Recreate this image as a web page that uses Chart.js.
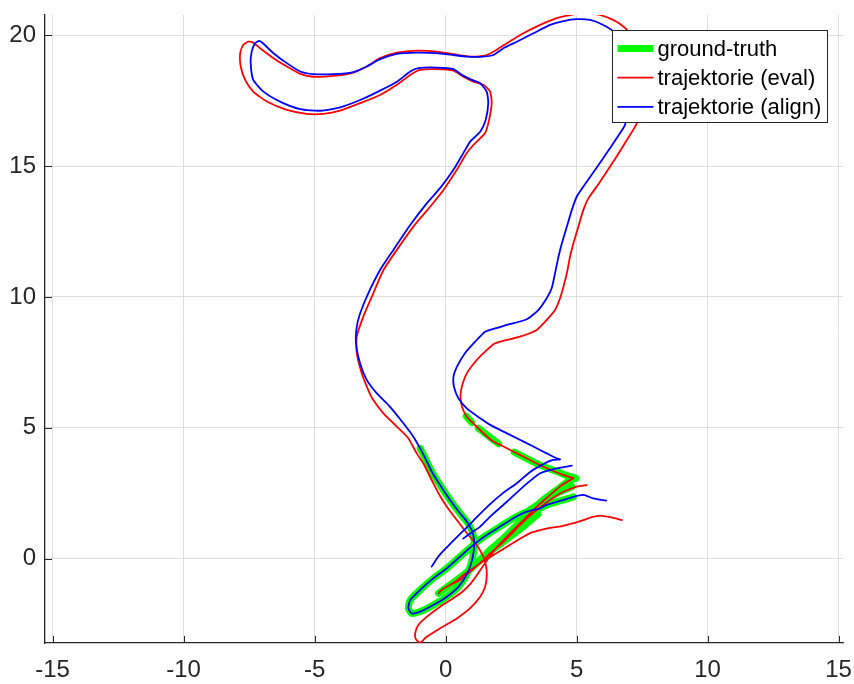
<!DOCTYPE html>
<html>
<head>
<meta charset="utf-8">
<title>Trajektorie</title>
<script src="https://cdn.jsdelivr.net/npm/chart.js@4.4.1/dist/chart.umd.min.js"></script>
<style>
  html, body { margin: 0; padding: 0; background: #ffffff; }
  #wrap { width: 854px; height: 684px; }
</style>
</head>
<body>
<div id="wrap"><canvas id="plot" width="854" height="684"></canvas></div>
<script>
// Axis ticks
const xTicks = [-15, -10, -5, 0, 5, 10, 15];
const yTicks = [0, 5, 10, 15, 20];

// Legend entries
const seriesNames = ['ground-truth', 'trajektorie (eval)', 'trajektorie (align)'];

// Ground truth pieces [x, y] in metres
const truthLeft = [[-0.97,4.21],[-0.78,3.84],[-0.52,3.31],[-0.21,2.81],[0.17,2.24],[0.55,1.73],[0.82,1.40],[1.01,1.05],[1.09,0.67],[1.07,0.25],[0.97,-0.21],[0.78,-0.67],[0.48,-1.09],[0.05,-1.46],[-0.47,-1.78],[-0.97,-2.03],[-1.29,-2.10],[-1.42,-1.90],[-1.35,-1.59],[-0.97,-1.20],[-0.47,-0.76],[0.05,-0.37],[0.55,0.07],[1.06,0.52],[1.57,0.90],[2.08,1.22],[2.59,1.54],[3.10,1.79],[3.61,1.92],[3.86,2.05],[4.50,2.24],[4.88,2.36]];
const truthReturn = [[-0.27,-1.33],[0.17,-1.01],[0.68,-0.63],[1.32,-0.06],[1.70,0.33],[2.21,0.77],[2.72,1.28],[3.23,1.79],[3.73,2.24],[4.24,2.62],[4.75,3.00],[4.98,3.07],[4.63,3.17],[4.24,3.33],[3.61,3.57],[2.62,4.07]];
const truthDashA = [[1.25,4.98],[2.02,4.39]];
const truthDashB = [[0.79,5.44],[1.00,5.20]];
const truthStrandA = [[4.83,2.75],[4.24,2.49],[3.61,2.11],[3.20,1.85]];
const truthStrandB = [[3.53,1.70],[2.97,1.22],[2.46,0.83],[1.95,0.45],[1.43,0.06],[0.94,-0.33]];

// Estimated trajectory (eval)
const evalClimb = [[4.88,3.07],[4.50,3.19],[3.86,3.45],[3.35,3.70],[2.72,4.02],[2.21,4.28],[1.82,4.47],[1.44,4.79],[1.06,5.17],[0.81,5.42],[0.63,5.79],[0.57,6.19],[0.62,6.57],[0.81,7.08],[1.19,7.59],[1.57,7.97],[1.89,8.23],[2.34,8.36],[2.84,8.48],[3.48,8.74],[3.86,9.12],[4.18,9.50],[4.37,9.95],[4.50,10.39],[4.63,10.91],[4.75,11.54],[4.88,12.05],[5.07,12.69],[5.26,13.33],[5.45,13.77],[5.77,14.22],[6.15,14.79],[6.53,15.37],[6.92,16.00],[7.30,16.64],[7.42,17.34],[7.50,18.11],[7.38,18.99],[7.16,19.68],[6.92,20.21],[6.53,20.52],[5.90,20.78],[5.26,20.85],[4.75,20.78]];
const evalTop = [[4.75,20.78],[4.24,20.66],[3.61,20.40],[2.97,20.08],[2.34,19.70],[1.95,19.45],[1.57,19.25],[1.06,19.19],[0.55,19.24],[-0.34,19.38],[-1.10,19.42],[-1.86,19.34],[-2.50,19.13],[-3.01,18.81],[-3.52,18.58],[-4.28,18.45],[-5.05,18.42],[-5.55,18.53],[-6.06,18.81],[-6.57,19.13],[-7.08,19.51],[-7.34,19.72],[-7.53,19.76],[-7.72,19.64],[-7.84,19.32],[-7.82,18.81],[-7.65,18.30],[-7.34,17.85],[-6.82,17.47],[-6.06,17.15],[-5.30,17.00],[-4.66,17.00],[-4.03,17.12],[-3.26,17.41],[-2.50,17.72],[-1.86,18.11],[-1.35,18.49],[-0.97,18.68],[-0.34,18.71],[0.30,18.65],[0.68,18.42],[1.06,18.23],[1.44,18.11],[1.70,17.85],[1.76,17.41],[1.66,16.77]];
const evalDescent = [[1.66,16.77],[1.51,16.27],[1.06,15.81],[0.81,15.50],[0.43,14.86],[-0.08,14.09],[-0.59,13.45],[-1.23,12.69],[-1.86,11.80],[-2.37,11.03],[-2.76,10.14],[-3.14,9.25],[-3.39,8.48],[-3.39,7.85],[-3.20,7.08],[-2.95,6.44],[-2.76,6.06],[-2.37,5.55],[-1.86,5.04],[-1.43,4.61],[-1.10,4.02],[-0.85,3.64],[-0.47,2.88],[-0.21,2.39],[0.05,1.98],[0.43,1.47],[0.87,0.90],[1.19,0.52],[1.44,0.07],[1.55,-0.31],[1.57,-0.70],[1.51,-1.08],[1.32,-1.46],[0.94,-1.90],[0.43,-2.29],[-0.21,-2.67],[-0.72,-2.99],[-0.97,-3.22],[-1.13,-3.09],[-1.16,-2.85],[-1.04,-2.54],[-0.72,-2.23],[-0.21,-1.84],[0.25,-1.55],[0.63,-1.28],[0.94,-0.98],[1.20,-0.63],[1.43,-0.29],[1.70,0.10],[2.00,0.48],[2.46,0.96],[2.97,1.47],[3.48,1.98],[3.99,2.43],[4.44,2.81],[4.88,3.07]];
const evalBranch = [[5.39,2.81],[5.01,2.75],[4.50,2.55],[3.99,2.24],[3.48,1.85],[2.97,1.41],[2.59,1.02],[2.21,0.64],[1.70,0.20],[1.44,-0.06],[0.94,-0.50],[0.55,-0.82],[0.17,-1.01],[-0.15,-1.20],[-0.27,-1.33]];
const evalTail = [[6.73,1.47],[6.28,1.58],[5.90,1.64],[5.58,1.58],[5.26,1.47],[4.88,1.35],[4.44,1.24],[3.99,1.17],[3.61,1.09],[3.29,1.00],[2.97,0.83],[2.59,0.60],[2.21,0.36],[1.82,0.13],[1.44,-0.10],[1.06,-0.37],[0.68,-0.63],[0.36,-0.89],[0.05,-1.08]];

// Aligned trajectory (align)
const alignApproach = [[-0.53,-0.31],[-0.29,0.06],[0.02,0.40],[0.43,0.82],[0.82,1.20],[1.24,1.63],[1.70,2.08],[2.19,2.50],[2.72,2.88],[3.23,3.31],[3.73,3.61],[4.10,3.77],[4.37,3.79]];
const alignClimb = [[4.37,3.79],[4.24,3.83],[3.86,4.02],[3.35,4.28],[2.72,4.60],[2.21,4.85],[1.70,5.11],[1.32,5.36],[0.81,5.74],[0.49,6.13],[0.32,6.57],[0.30,6.95],[0.43,7.33],[0.74,7.85],[1.13,8.29],[1.51,8.67],[1.89,8.80],[2.34,8.93],[3.10,9.15],[3.54,9.50],[3.86,9.95],[4.05,10.33],[4.18,10.91],[4.31,11.54],[4.44,12.05],[4.63,12.69],[4.82,13.33],[5.01,13.84],[5.26,14.22],[5.71,14.86],[6.15,15.50],[6.53,16.07],[6.85,16.58],[6.97,17.34],[7.04,18.11],[6.89,18.99],[6.66,19.75],[6.40,20.15],[6.02,20.40],[5.52,20.59],[5.01,20.62]];
const alignTop = [[5.01,20.62],[4.50,20.55],[3.99,20.40],[3.35,20.08],[2.72,19.76],[2.21,19.51],[1.82,19.25],[1.44,19.19],[0.81,19.19],[0.30,19.25],[-0.34,19.32],[-1.10,19.34],[-1.86,19.29],[-2.50,19.09],[-3.01,18.81],[-3.52,18.60],[-4.28,18.52],[-5.05,18.52],[-5.55,18.62],[-6.06,18.94],[-6.57,19.32],[-6.95,19.68],[-7.11,19.79],[-7.27,19.70],[-7.40,19.38],[-7.44,18.94],[-7.34,18.30],[-6.95,17.85],[-6.32,17.47],[-5.55,17.18],[-4.79,17.12],[-4.03,17.25],[-3.26,17.53],[-2.50,17.89],[-1.86,18.23],[-1.35,18.62],[-1.04,18.75],[-0.34,18.77],[0.30,18.71],[0.62,18.49],[1.00,18.30],[1.32,18.17],[1.57,17.85],[1.63,17.41],[1.53,16.77]];
const alignDescent = [[1.53,16.77],[1.32,16.32],[0.94,15.94],[0.68,15.50],[0.30,14.86],[-0.21,14.16],[-0.72,13.58],[-1.35,12.75],[-1.99,11.80],[-2.50,11.03],[-2.95,10.14],[-3.26,9.38],[-3.39,8.86],[-3.42,8.23],[-3.26,7.46],[-3.01,6.83],[-2.63,6.32],[-2.12,5.80],[-1.61,5.17],[-1.23,4.66],[-0.97,4.21],[-0.78,3.84],[-0.52,3.31],[-0.21,2.81],[0.17,2.24],[0.55,1.73],[0.82,1.40],[1.01,1.05],[1.09,0.67],[1.07,0.25],[0.97,-0.21],[0.78,-0.67],[0.48,-1.09],[0.05,-1.46],[-0.47,-1.78],[-0.97,-2.03],[-1.29,-2.10],[-1.42,-1.90],[-1.35,-1.59],[-0.97,-1.20],[-0.47,-0.76],[0.05,-0.37],[0.55,0.07],[1.06,0.52],[1.57,0.90],[2.08,1.22],[2.59,1.54],[3.10,1.79],[3.61,1.92],[3.86,2.05],[4.50,2.24],[4.88,2.36],[5.26,2.43],[5.64,2.30],[6.13,2.21]];
const alignSpur = [[4.82,3.55],[4.24,3.45],[3.61,3.26],[2.97,2.75],[2.34,2.17],[1.70,1.60],[1.32,1.22],[0.94,0.96],[0.67,0.76]];

// Each series is a list of polylines; consecutive polylines are separated by a gap.
function toPoints(polylines) {
  const out = [];
  polylines.forEach((line, i) => {
    if (i > 0) out.push({ x: null, y: null });
    line.forEach(p => out.push({ x: p[0], y: p[1] }));
  });
  return out;
}

const truthData = toPoints([truthLeft, truthReturn, truthDashA, truthDashB, truthStrandA, truthStrandB]);
const evalData = toPoints([evalClimb.concat(evalTop.slice(1), evalDescent.slice(1)), evalBranch, evalTail]);
const alignData = toPoints([alignApproach.concat(alignClimb.slice(1), alignTop.slice(1), alignDescent.slice(1)), alignSpur]);

const AXIS_COLOR = '#262626';
const FONT = '"Liberation Sans", Arial, Helvetica, sans-serif';

// Short tick marks pointing into the plot area
const innerTicks = {
  id: 'innerTicks',
  afterDatasetsDraw(chart) {
    const { ctx, chartArea, scales } = chart;
    const len = 7;
    ctx.save();
    ctx.strokeStyle = AXIS_COLOR;
    ctx.lineWidth = 1;
    ctx.beginPath();
    xTicks.forEach(v => {
      const px = Math.round(scales.x.getPixelForValue(v)) + 0.5;
      ctx.moveTo(px, chartArea.bottom);
      ctx.lineTo(px, chartArea.bottom - len);
    });
    yTicks.forEach(v => {
      const py = Math.round(scales.y.getPixelForValue(v)) + 0.5;
      ctx.moveTo(chartArea.left, py);
      ctx.lineTo(chartArea.left + len, py);
    });
    ctx.stroke();
    ctx.restore();
  }
};

// Boxed legend in the upper right corner of the plot area
const boxLegend = {
  id: 'boxLegend',
  afterDraw(chart) {
    const { ctx, chartArea } = chart;
    const w = 215, h = 92;
    const x0 = Math.round(chartArea.right - 231) + 0.5;
    const y0 = Math.round(chartArea.top + 15) + 0.5;
    const rowH = 29.2;
    ctx.save();
    ctx.fillStyle = '#ffffff';
    ctx.fillRect(x0, y0, w, h);
    ctx.strokeStyle = '#262626';
    ctx.lineWidth = 1;
    ctx.strokeRect(x0, y0, w, h);
    chart.data.datasets.forEach((ds, i) => {
      const cy = y0 + 18 + i * rowH;
      ctx.beginPath();
      ctx.strokeStyle = ds.borderColor;
      ctx.lineWidth = ds.borderWidth;
      ctx.lineCap = 'butt';
      ctx.moveTo(x0 + 5, cy);
      ctx.lineTo(x0 + 41, cy);
      ctx.stroke();
      ctx.fillStyle = '#000000';
      ctx.font = '22px ' + FONT;
      ctx.textAlign = 'left';
      ctx.textBaseline = 'middle';
      ctx.fillText(ds.label, x0 + 45, cy + 1.5);
    });
    ctx.restore();
  }
};

const lineStyle = {
  showLine: true,
  pointRadius: 0,
  pointHoverRadius: 0,
  spanGaps: false,
  tension: 0.2,
  borderCapStyle: 'round',
  borderJoinStyle: 'round',
  fill: false
};

// Keep the plot area edges fixed: no extra room for overhanging tick labels
function fixPadding(s) {
  s.paddingLeft = 0;
  s.paddingRight = 0;
  s.paddingTop = 0;
  s.paddingBottom = 0;
}

new Chart(document.getElementById('plot').getContext('2d'), {
  type: 'scatter',
  data: {
    datasets: [
      Object.assign({ label: seriesNames[0], data: truthData, borderColor: '#00ff00', backgroundColor: '#00ff00', borderWidth: 7, order: 3 }, lineStyle),
      Object.assign({ label: seriesNames[1], data: evalData, borderColor: '#ff0000', backgroundColor: '#ff0000', borderWidth: 1.8, order: 2 }, lineStyle),
      Object.assign({ label: seriesNames[2], data: alignData, borderColor: '#0000ff', backgroundColor: '#0000ff', borderWidth: 1.8, order: 1 }, lineStyle)
    ]
  },
  options: {
    responsive: false,
    animation: false,
    devicePixelRatio: 1,
    events: [],
    layout: { padding: { left: 0, right: 11, top: 15, bottom: 0 } },
    plugins: { legend: { display: false }, tooltip: { enabled: false } },
    scales: {
      x: {
        type: 'linear',
        min: -15.29,
        max: 15.17,
        afterBuildTicks: s => { s.ticks = xTicks.map(v => ({ value: v })); },
        afterFit: s => { s.height = 41; fixPadding(s); },
        grid: { color: '#dedede', lineWidth: 1, drawTicks: false },
        border: { color: AXIS_COLOR, width: 1.3 },
        ticks: { color: AXIS_COLOR, font: { family: FONT, size: 24 }, padding: 13, maxRotation: 0, autoSkip: false }
      },
      y: {
        type: 'linear',
        min: -3.23,
        max: 20.78,
        afterBuildTicks: s => { s.ticks = yTicks.map(v => ({ value: v })); },
        afterFit: s => { s.width = 45; fixPadding(s); },
        grid: { color: '#dedede', lineWidth: 1, drawTicks: false },
        border: { color: AXIS_COLOR, width: 1.3 },
        ticks: { color: AXIS_COLOR, font: { family: FONT, size: 24 }, padding: 9, autoSkip: false }
      }
    }
  },
  plugins: [innerTicks, boxLegend]
});
</script>
</body>
</html>
